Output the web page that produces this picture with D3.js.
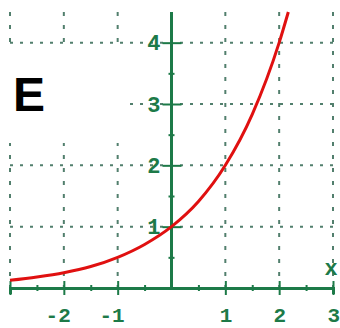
<!DOCTYPE html>
<html>
<head>
<meta charset="utf-8">
<script src="https://cdn.jsdelivr.net/npm/d3@7"></script>
<style>
  body { margin: 0; background: #fff; }
  svg { display: block; }
</style>
</head>
<body>
<div id="chart"></div>
<script>
// values (curve y = 2^x)
var curveX = [-3, -2.5, -2, -1.5, -1, -0.5, 0, 0.5, 1, 1.5, 2, 2.17];
var curveY = [0.125, 0.18, 0.25, 0.35, 0.5, 0.71, 1, 1.41, 2, 2.83, 4, 4.5];
var xTicks = [-3, -2, -1, 1, 2, 3];
var xLabels = ["-2", "-1", "1", "2", "3"];
var xLabelValues = [-2, -1, 1, 2, 3];
var yTicks = [1, 2, 3, 4];
var yLabels = ["1", "2", "3", "4"];
var xMinor = [-2.5, -1.5, -0.5, 0.5, 1.5, 2.5];
var yMinor = [0.5, 1.5, 2.5, 3.5];
var panelTitle = "E";

var width = 340, height = 328;
var green = "#1d7a48", gridColor = "#527f6d";
var font = "'Liberation Mono', 'DejaVu Sans Mono', monospace";

var svg = d3.select("#chart").append("svg")
  .attr("width", width)
  .attr("height", height);

var x = d3.scaleLinear().domain([-3, 3]).range([10, 333]);
var y = d3.scaleLinear().domain([0, 4.5]).range([288, 12]);

// dotted grid
svg.append("g").selectAll("line")
  .data(xTicks)
  .enter().append("line")
  .attr("x1", function (d) { return x(d); })
  .attr("x2", function (d) { return x(d); })
  .attr("y1", 12)
  .attr("y2", 298)
  .attr("stroke", gridColor)
  .attr("stroke-width", 2)
  .attr("stroke-dasharray", "4,9");

svg.append("g").selectAll("line")
  .data(yTicks)
  .enter().append("line")
  .attr("x1", x(-3))
  .attr("x2", x(3))
  .attr("y1", function (d) { return y(d); })
  .attr("y2", function (d) { return y(d); })
  .attr("stroke", gridColor)
  .attr("stroke-width", 2)
  .attr("stroke-dasharray", "3,7");

// white box behind the panel letter
svg.append("rect")
  .attr("x", 0).attr("y", 44)
  .attr("width", 128).attr("height", 99)
  .attr("fill", "#fff");

svg.append("text")
  .attr("x", 13).attr("y", 111)
  .style("font-family", "'Liberation Sans', Arial, sans-serif")
  .style("font-weight", "bold")
  .style("font-size", "48px")
  .attr("fill", "#000")
  .text(panelTitle);

// x axis
var xAxis = svg.append("g")
  .attr("transform", "translate(0," + y(0) + ")")
  .call(d3.axisBottom(x).tickValues(xTicks.concat(xMinor)).tickFormat(""));
xAxis.select(".domain").attr("stroke", green).attr("stroke-width", 3);
xAxis.selectAll(".tick line")
  .attr("stroke", green)
  .attr("stroke-width", 2)
  .attr("y1", function (d) { return Number.isInteger(d) ? -7 : -3; })
  .attr("y2", function (d) { return Number.isInteger(d) ? 7 : 3; });

// y axis
var yAxis = svg.append("g")
  .attr("transform", "translate(" + x(0) + ",0)")
  .call(d3.axisLeft(y).tickValues(yTicks.concat(yMinor)).tickFormat(""));
yAxis.select(".domain").attr("stroke", green).attr("stroke-width", 3)
  .attr("d", "M0," + y(4.5) + "V" + y(0));
yAxis.selectAll(".tick line")
  .attr("stroke", green)
  .attr("stroke-width", 2)
  .attr("x1", function (d) { return Number.isInteger(d) ? -9 : -3; })
  .attr("x2", function (d) { return Number.isInteger(d) ? 10 : 3; });

// labels
svg.append("g").selectAll("text")
  .data(xLabelValues)
  .enter().append("text")
  .attr("x", function (d) { return x(d) + 7; })
  .attr("y", 322)
  .attr("text-anchor", "end")
  .style("font-family", font)
  .style("font-weight", "bold")
  .style("font-size", "21px")
  .attr("fill", green)
  .text(function (d, i) { return xLabels[i]; });

svg.append("g").selectAll("text")
  .data(yTicks)
  .enter().append("text")
  .attr("x", x(0) - 11)
  .attr("y", function (d) { return y(d); })
  .attr("dy", "0.35em")
  .attr("text-anchor", "end")
  .style("font-family", font)
  .style("font-weight", "bold")
  .style("font-size", "22px")
  .attr("fill", green)
  .text(function (d, i) { return yLabels[i]; });

svg.append("text")
  .attr("x", 331).attr("y", 275)
  .attr("text-anchor", "middle")
  .style("font-family", font)
  .style("font-weight", "bold")
  .style("font-size", "22px")
  .attr("fill", green)
  .text("x");

// curve
var line = d3.line()
  .x(function (d, i) { return x(curveX[i]); })
  .y(function (d) { return y(d); })
  .curve(d3.curveMonotoneX);

svg.append("path")
  .datum(curveY)
  .attr("d", line)
  .attr("fill", "none")
  .attr("stroke", "#e01010")
  .attr("stroke-width", 3);
</script>
</body>
</html>
